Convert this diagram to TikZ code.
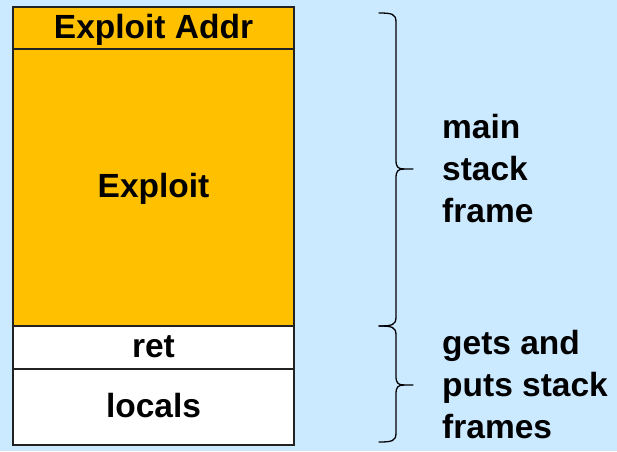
\documentclass[tikz,border=0pt]{standalone}
\usepackage{fontspec}
\setmainfont{Liberation Sans}
\definecolor{bgblue}{HTML}{CCEAFF}
\definecolor{frameorange}{HTML}{FFC000}
\definecolor{edge}{HTML}{222222}
\begin{document}
\begin{tikzpicture}[x=1pt,y=-1pt,
  cell/.style={draw=edge, line width=1.6pt, minimum width=281pt, inner sep=0pt,
    text height=22pt, text depth=2pt, font=\fontsize{33.5}{42}\selectfont\bfseries},
  note/.style={anchor=base west, inner sep=0pt, align=left,
    font=\fontsize{33.5}{42}\selectfont\bfseries},
  bracepath/.style={line width=1.3pt, line cap=round}]
  % canvas
  \fill[bgblue] (0,0) rectangle (617,451);
  \useasboundingbox (0,0) rectangle (617,451);

  % stack cells, top to bottom
  \node[cell, fill=frameorange, minimum height=42pt]  (addr)    at (153.5,28)    {Exploit Addr};
  \node[cell, fill=frameorange, minimum height=277pt] (exploit) at (153.5,187.5) {Exploit};
  \node[cell, fill=white,       minimum height=43pt]  (ret)     at (153.5,347.5) {ret};
  \node[cell, fill=white,       minimum height=76pt]  (locals)  at (153.5,407)   {locals};

  % brace over the main frame
  \coordinate (b1top) at (379,13);
  \coordinate (b1tip) at (413,169);
  \coordinate (b1bot) at (379,326);
  \draw[bracepath] (b1top) .. controls (392,13) and (396,14) .. (396,22)
    -- (396,160) .. controls (396,167) and (398,169) .. (404,169) -- (b1tip);
  \draw[bracepath] (404,169) .. controls (398,169) and (396,171) .. (396,178)
    -- (396,317) .. controls (396,325) and (392,326) .. (b1bot);

  % brace over the gets/puts frames
  \coordinate (b2top) at (379,326);
  \coordinate (b2tip) at (413,385);
  \coordinate (b2bot) at (379,442);
  \draw[bracepath] (b2top) .. controls (392,326) and (396,327) .. (396,335)
    -- (396,376) .. controls (396,383) and (398,385) .. (404,385) -- (b2tip);
  \draw[bracepath] (404,385) .. controls (398,385) and (396,387) .. (396,394)
    -- (396,433) .. controls (396,441) and (392,442) .. (b2bot);

  % labels (base anchor sits on the last line)
  \node[note] (mainlbl) at (442,222) {main\\stack\\frame};
  \node[note] (getslbl) at (442,438) {gets and\\puts stack\\frames};
\end{tikzpicture}
\end{document}
